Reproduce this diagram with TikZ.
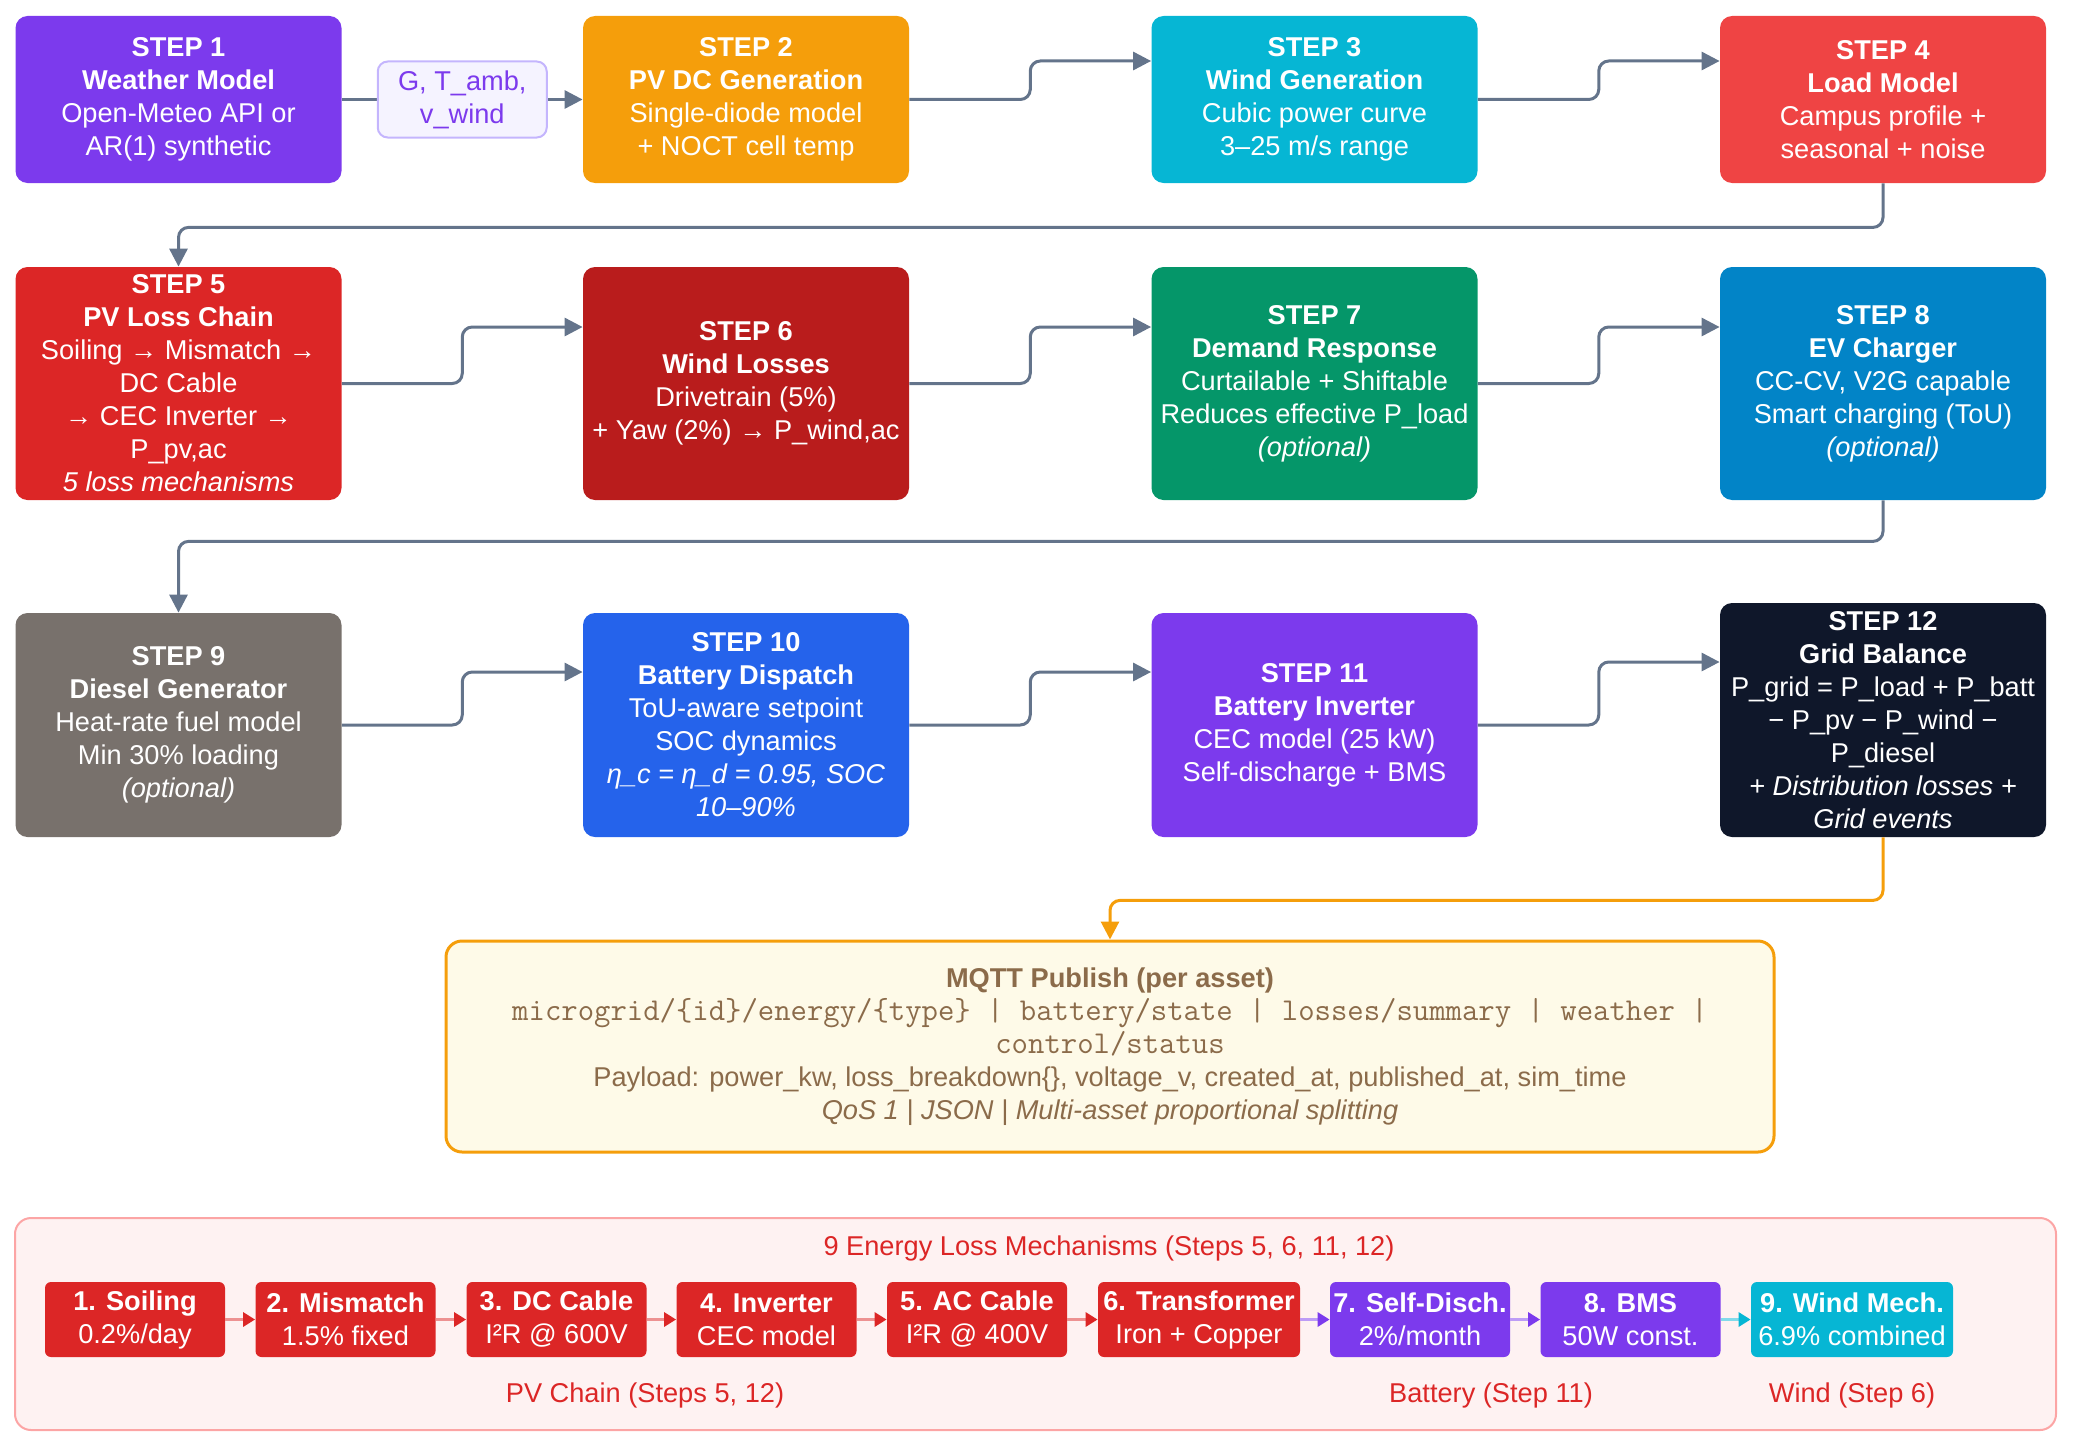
\documentclass[tikz,border=0pt]{standalone}
\usepackage{fontspec}
\setmainfont{Liberation Sans}
\usetikzlibrary{arrows.meta,calc}

\definecolor{cViolet}{HTML}{7C3AED}
\definecolor{cAmber}{HTML}{F59E0B}
\definecolor{cCyan}{HTML}{06B6D4}
\definecolor{cRedL}{HTML}{EF4444}
\definecolor{cRed}{HTML}{DC2626}
\definecolor{cRedD}{HTML}{B91C1C}
\definecolor{cGreen}{HTML}{059669}
\definecolor{cSky}{HTML}{0284C7}
\definecolor{cStone}{HTML}{78716C}
\definecolor{cBlue}{HTML}{2563EB}
\definecolor{cNavy}{HTML}{0F172A}
\definecolor{cSlate}{HTML}{64748B}
\definecolor{cLilac}{HTML}{F5F3FF}
\definecolor{cLilacLine}{HTML}{C4B5FD}
\definecolor{cCream}{HTML}{FEFAE8}
\definecolor{cBrown}{HTML}{8B6B4A}
\definecolor{cPink}{HTML}{FEF2F2}
\definecolor{cPinkLine}{HTML}{FCA5A5}

\newcommand{\topicfont}{\fontsize{15.9}{17}\selectfont\ttfamily}

\begin{document}
\begin{tikzpicture}[x=0.5pt,y=-0.5pt,
    every node/.style={font=\fontsize{13.6}{16.5}\selectfont},
    stepbox/.style={rectangle,rounded corners=6pt,fill=#1,text=white,align=center,
        minimum width=163pt,inner sep=2pt},
    toprow/.style={minimum height=83.5pt},
    midrow/.style={minimum height=116.5pt},
    lowrow/.style={minimum height=112pt},
    tagbox/.style={rectangle,rounded corners=5pt,fill=cLilac,draw=cLilacLine,line width=1pt,
        text=cViolet,align=center,minimum width=84.5pt,minimum height=38pt,inner sep=2pt},
    flow/.style={draw=cSlate,line width=1.5pt,rounded corners=5pt,
        -{Triangle[length=9pt,width=9pt]}},
    lossbox/.style={rectangle,rounded corners=3pt,fill=#1,text=white,align=center,
        minimum width=90pt,minimum height=37.5pt,inner sep=1pt},
    lossflow/.style={draw=#1!50,line width=1.5pt,-{Triangle[length=6pt,width=7pt,color=#1]}}]

    \useasboundingbox (0,0) rectangle (2075,1445);

    % row 1
    \node[stepbox=cViolet,toprow] (step1) at (178.5,99.5)
        {\textbf{STEP 1}\\\textbf{Weather Model}\\Open-Meteo API or\\AR(1) synthetic};
    \node[stepbox=cAmber,toprow] (step2) at (746,99.5)
        {\textbf{STEP 2}\\\textbf{PV DC Generation}\\Single-diode model\\+ NOCT cell temp};
    \node[stepbox=cCyan,toprow] (step3) at (1314.5,99.5)
        {\textbf{STEP 3}\\\textbf{Wind Generation}\\Cubic power curve\\3–25 m/s range};
    \node[stepbox=cRedL,toprow] (step4) at (1883,99.5)
        {\textbf{STEP 4}\\\textbf{Load Model}\\Campus profile +\\seasonal + noise};

    % row 2
    \node[stepbox=cRed,midrow] (step5) at (178.5,383.5)
        {\textbf{STEP 5}\\\textbf{PV Loss Chain}\\Soiling → Mismatch →\\DC Cable\\→ CEC Inverter →\\P\_pv,ac\\\textit{5 loss mechanisms}};
    \node[stepbox=cRedD,midrow] (step6) at (746,383.5)
        {\textbf{STEP 6}\\\textbf{Wind Losses}\\Drivetrain (5\%)\\+ Yaw (2\%) → P\_wind,ac};
    \node[stepbox=cGreen,midrow] (step7) at (1314.5,383.5)
        {\textbf{STEP 7}\\\textbf{Demand Response}\\Curtailable + Shiftable\\Reduces effective P\_load\\\textit{(optional)}};
    \node[stepbox=cSky,midrow] (step8) at (1883,383.5)
        {\textbf{STEP 8}\\\textbf{EV Charger}\\CC-CV, V2G capable\\Smart charging (ToU)\\\textit{(optional)}};

    % row 3
    \node[stepbox=cStone,lowrow] (step9) at (178.5,725)
        {\textbf{STEP 9}\\\textbf{Diesel Generator}\\Heat-rate fuel model\\Min 30\% loading\\\textit{(optional)}};
    \node[stepbox=cBlue,lowrow] (step10) at (746,725)
        {\textbf{STEP 10}\\\textbf{Battery Dispatch}\\ToU-aware setpoint\\SOC dynamics\\\textit{η\_c = η\_d = 0.95, SOC}\\\textit{10–90\%}};
    \node[stepbox=cViolet,lowrow] (step11) at (1314.5,725)
        {\textbf{STEP 11}\\\textbf{Battery Inverter}\\CEC model (25 kW)\\Self-discharge + BMS};
    \node[stepbox=cNavy,minimum height=117pt] (step12) at (1883,720)
        {\textbf{STEP 12}\\\textbf{Grid Balance}\\P\_grid = P\_load + P\_batt\\− P\_pv − P\_wind −\\P\_diesel\\\textit{+ Distribution losses +}\\\textit{Grid events}};

    % mqtt
    \node[rectangle,rounded corners=8pt,fill=cCream,draw=cAmber,line width=1.5pt,text=cBrown,
        align=center,minimum width=664pt,minimum height=105.5pt] (mqtt) at (1110,1046.5)
        {\textbf{MQTT Publish (per asset)}\\
         {\topicfont microgrid/\{id\}/energy/\{type\} | battery/state | losses/summary | weather |}\\
         {\topicfont control/status}\\
         Payload: power\_kw, loss\_breakdown\{\}, voltage\_v, created\_at, published\_at, sim\_time\\
         \textit{QoS 1 | JSON | Multi-asset proportional splitting}};

    % entry points
    \coordinate (in3) at ([yshift=19.25pt]step3.west);
    \coordinate (in4) at ([yshift=19.25pt]step4.west);
    \coordinate (in6) at ([yshift=28.25pt]step6.west);
    \coordinate (in7) at ([yshift=28.25pt]step7.west);
    \coordinate (in8) at ([yshift=28.25pt]step8.west);
    \coordinate (in10) at ([yshift=26.5pt]step10.west);
    \coordinate (in11) at ([yshift=26.5pt]step11.west);
    \coordinate (in12) at ([yshift=29pt]step12.west);

    \draw[flow] (step1) -- node[tagbox] (tag) {G, T\_amb,\\v\_wind} (step2);
    \draw[flow] (step2.east) -| ($(step2.east)!.5!(in3)$) |- (in3);
    \draw[flow] (step3.east) -| ($(step3.east)!.5!(in4)$) |- (in4);
    \draw[flow] (step4.south) -- ++(0,44) -| (step5.north);
    \draw[flow] (step5.east) -| ($(step5.east)!.5!(in6)$) |- (in6);
    \draw[flow] (step6.east) -| ($(step6.east)!.5!(in7)$) |- (in7);
    \draw[flow] (step7.east) -| ($(step7.east)!.5!(in8)$) |- (in8);
    \draw[flow] (step8.south) -- ++(0,41) -| (step9.north);
    \draw[flow] (step9.east) -| ($(step9.east)!.5!(in10)$) |- (in10);
    \draw[flow] (step10.east) -| ($(step10.east)!.5!(in11)$) |- (in11);
    \draw[flow] (step11.east) -| ($(step11.east)!.5!(in12)$) |- (in12);
    \draw[flow,draw=cAmber] (step12.south) -- ++(0,63) -| (mqtt.north);

    % loss panel
    \node[rectangle,rounded corners=8pt,fill=cPink,draw=cPinkLine,line width=1pt,
        minimum width=1020.5pt,minimum height=106pt] (panel) at (1035.5,1324) {};
    \node[text=cRed] (losstitle) at (1109,1248) {9 Energy Loss Mechanisms (Steps 5, 6, 11, 12)};

    \node[lossbox=cRed] (l1) at (135,1319.5) {\textbf{1. Soiling}\\0.2\%/day};
    \node[lossbox=cRed] (l2) at (345.5,1319.5) {\textbf{2. Mismatch}\\1.5\% fixed};
    \node[lossbox=cRed] (l3) at (556.5,1319.5) {\textbf{3. DC Cable}\\I²R @ 600V};
    \node[lossbox=cRed] (l4) at (766.5,1319.5) {\textbf{4. Inverter}\\CEC model};
    \node[lossbox=cRed] (l5) at (977,1319.5) {\textbf{5. AC Cable}\\I²R @ 400V};
    \node[lossbox=cRed,minimum width=101pt] (l6) at (1199,1319.5) {\textbf{6. Transformer}\\Iron + Copper};
    \node[lossbox=cViolet] (l7) at (1420,1319.5) {\textbf{7. Self-Disch.}\\2\%/month};
    \node[lossbox=cViolet] (l8) at (1630.5,1319.5) {\textbf{8. BMS}\\50W const.};
    \node[lossbox=cCyan,minimum width=101pt] (l9) at (1852,1319.5) {\textbf{9. Wind Mech.}\\6.9\% combined};

    \draw[lossflow=cRed] (l1) -- (l2);
    \draw[lossflow=cRed] (l2) -- (l3);
    \draw[lossflow=cRed] (l3) -- (l4);
    \draw[lossflow=cRed] (l4) -- (l5);
    \draw[lossflow=cRed] (l5) -- (l6);
    \draw[lossflow=cViolet] (l6) -- (l7);
    \draw[lossflow=cViolet] (l7) -- (l8);
    \draw[lossflow=cCyan] (l8) -- (l9);

    \node[text=cRed] (pvlabel) at (645,1395) {PV Chain (Steps 5, 12)};
    \node[text=cRed] (batlabel) at (1491,1395) {Battery (Step 11)};
    \node[text=cRed] (windlabel) at (1852,1395) {Wind (Step 6)};

\end{tikzpicture}
\end{document}
